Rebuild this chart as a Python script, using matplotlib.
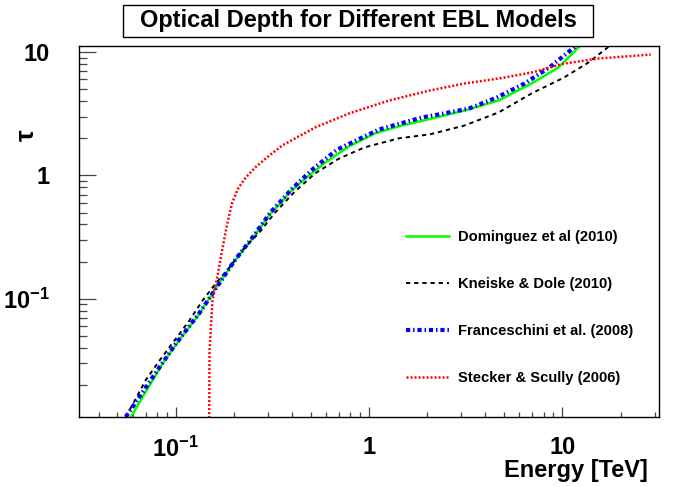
import numpy as np
import matplotlib
matplotlib.use("Agg")
import matplotlib.pyplot as plt
from matplotlib.ticker import FixedLocator, FixedFormatter, LogLocator, NullFormatter
from matplotlib.patches import Rectangle

plt.rcParams['font.family'] = ['Liberation Sans', 'DejaVu Sans']
plt.rcParams['font.weight'] = 'bold'
plt.rcParams['axes.labelweight'] = 'bold'
plt.rcParams['mathtext.default'] = 'regular'

# Dominguez et al (2010)
dom_e = [0.0586, 0.0857, 0.1063, 0.133, 0.161, 0.201, 0.25, 0.309, 0.356, 0.392, 0.452,
         0.593, 0.789, 1.07, 1.48, 2.11, 3.12, 4.68, 6.92, 9.55, 12.1, 13.5]
dom_tau = [0.011, 0.030, 0.048, 0.076, 0.122, 0.20, 0.31, 0.49, 0.62, 0.74, 0.90,
           1.27, 1.72, 2.19, 2.54, 2.89, 3.36, 4.05, 5.56, 7.5, 10.9, 13.0]

# Kneiske & Dole (2010)
kd_e = [0.0552, 0.0608, 0.070, 0.0828, 0.0989, 0.118, 0.138, 0.161, 0.19, 0.221, 0.271,
        0.327, 0.41, 0.527, 0.70, 0.95, 1.43, 2.06, 3.12, 4.68, 6.92, 10.2, 13.6, 17.3, 19.0]
kd_tau = [0.011, 0.0145, 0.0219, 0.0318, 0.0461, 0.067, 0.097, 0.133, 0.18, 0.247, 0.345,
          0.50, 0.73, 1.04, 1.37, 1.69, 2.0, 2.15, 2.54, 3.24, 4.61, 6.22, 8.2, 11.0, 12.5]

# Franceschini et al. (2008)
fra_e = [0.0552, 0.076, 0.1, 0.133, 0.2, 0.25, 0.309, 0.40, 0.52, 0.684, 1.13, 1.88,
         2.29, 3.28, 4.57, 6.37, 8.57, 11.5, 12.8]
fra_tau = [0.011, 0.0231, 0.043, 0.077, 0.20, 0.315, 0.50, 0.78, 1.15, 1.62, 2.36, 2.95,
           3.12, 3.48, 4.27, 5.56, 7.5, 10.9, 13.0]

# Stecker & Scully (2006)
ss_e = [0.1490, 0.1497, 0.155, 0.164, 0.169, 0.175, 0.185, 0.196, 0.21, 0.23, 0.258, 0.30,
        0.356, 0.527, 0.789, 1.27, 2.06, 3.12, 4.68, 6.92, 10.2, 15.3, 28.7]
ss_tau = [0.010, 0.038, 0.097, 0.149, 0.194, 0.261, 0.408, 0.60, 0.78, 0.96, 1.16, 1.42,
          1.75, 2.45, 3.18, 4.05, 4.88, 5.56, 6.1, 6.82, 8.07, 8.86, 9.55]

xticks = [0.1, 1, 10]
xticklabels = ['10$^{-1}$', '1', '10']
yticks = [0.1, 1, 10]
yticklabels = ['10$^{-1}$', '1', '10']

fig = plt.figure(figsize=(6.8, 4.87), dpi=100)
ax = fig.add_axes([79/680, 1-417/487, 580/680, 371/487])

ax.plot(dom_e, dom_tau, color='#00ff00', lw=1.8, ls='-', label='Dominguez et al (2010)')
ax.plot(kd_e, kd_tau, color='black', lw=1.4, ls=(0, (2.2, 2)), label='Kneiske & Dole (2010)')
ax.plot(fra_e, fra_tau, color='blue', lw=3, ls=(0, (1.0, 0.7, 0.35, 0.7)),
        label='Franceschini et al. (2008)')
ax.plot(ss_e, ss_tau, color='red', lw=1.8, ls=(0, (0.8, 0.8)), label='Stecker & Scully (2006)')

ax.set_xscale('log')
ax.set_yscale('log')
ax.set_xlim(10**-1.5, 10**1.5)
ax.set_ylim(0.011, 11.2)

ax.xaxis.set_major_locator(FixedLocator(xticks))
ax.xaxis.set_major_formatter(FixedFormatter(xticklabels))
ax.xaxis.set_minor_locator(LogLocator(base=10, subs=np.arange(2, 10)))
ax.xaxis.set_minor_formatter(NullFormatter())
ax.yaxis.set_major_locator(FixedLocator(yticks))
ax.yaxis.set_major_formatter(FixedFormatter(yticklabels))
ax.yaxis.set_minor_locator(LogLocator(base=10, subs=np.arange(2, 10)))
ax.yaxis.set_minor_formatter(NullFormatter())

ax.tick_params(which='both', direction='in', top=False, right=False, color='#444444')
ax.tick_params(axis='x', which='major', length=7.2, width=0.9, pad=14, labelsize=17)
ax.tick_params(axis='x', which='minor', length=3.6, width=0.9)
ax.tick_params(axis='y', which='major', length=12, width=0.9, pad=21, labelsize=17)
ax.tick_params(axis='y', which='minor', length=5.8, width=0.9)
for s in ax.spines.values():
    s.set_linewidth(1.0)

ax.set_xlabel('Energy [TeV]', fontsize=17, fontweight='bold', ha='right', va='center')
ax.xaxis.set_label_coords(0.981, -0.143)
ax.set_ylabel('τ', fontsize=19, fontweight='bold', rotation=90, va='center')
ax.yaxis.set_label_coords(-0.09, 0.76)

ax.legend(loc='upper left', bbox_to_anchor=(0.564, 0.504), frameon=False,
          prop={'size': 10.6, 'weight': 'bold'},
          handlelength=2.9, handletextpad=0.6, labelspacing=2.25, borderpad=0,
          borderaxespad=0)

fig.patches.append(Rectangle((123/680, 1-37/487), 470/680, 32/487, transform=fig.transFigure,
                             facecolor='white', edgecolor='black', lw=1))
fig.text(358/680, 1-21/487, 'Optical Depth for Different EBL Models', ha='center',
         va='center', fontsize=17, fontweight='bold')

fig.savefig('out.png', dpi=100)
